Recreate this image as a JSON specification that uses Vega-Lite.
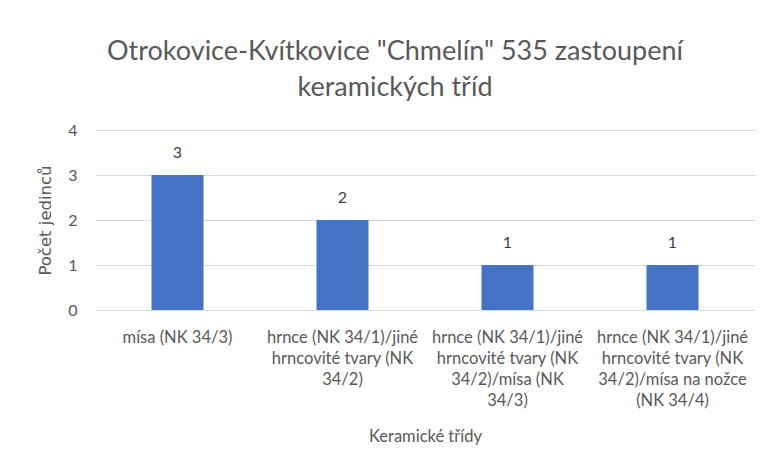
{
  "$schema": "https://vega.github.io/schema/vega-lite/v6.json",
  "autosize": "none",
  "width": 660,
  "height": 180,
  "padding": {"left": 95, "top": 130, "right": 9, "bottom": 158},
  "background": "white",
  "title": {
    "text": ["Otrokovice-Kvítkovice \"Chmelín\" 535 zastoupení", "keramických tříd"],
    "font": "Lato",
    "fontSize": 27,
    "fontWeight": "normal",
    "color": "#595959",
    "lineHeight": 36,
    "anchor": "middle",
    "dx": -30,
    "offset": 20
  },
  "data": {
    "values": [
      {"trida": "mísa (NK 34/3)", "pocet": 3},
      {"trida": "hrnce (NK 34/1)/jiné hrncovité tvary (NK 34/2)", "pocet": 2},
      {"trida": "hrnce (NK 34/1)/jiné hrncovité tvary (NK 34/2)/mísa (NK 34/3)", "pocet": 1},
      {"trida": "hrnce (NK 34/1)/jiné hrncovité tvary (NK 34/2)/mísa na nožce (NK 34/4)", "pocet": 1}
    ]
  },
  "encoding": {
    "x": {
      "field": "trida",
      "type": "nominal",
      "sort": null,
      "title": "Keramické třídy",
      "scale": {"paddingInner": 0.685, "paddingOuter": 0.3425},
      "axis": {
        "labelAngle": 0,
        "labelExpr": "datum.value == 'mísa (NK 34/3)' ? 'mísa (NK 34/3)' : datum.value == 'hrnce (NK 34/1)/jiné hrncovité tvary (NK 34/2)' ? ['hrnce (NK 34/1)/jiné', 'hrncovité tvary (NK', '34/2)'] : datum.value == 'hrnce (NK 34/1)/jiné hrncovité tvary (NK 34/2)/mísa (NK 34/3)' ? ['hrnce (NK 34/1)/jiné', 'hrncovité tvary (NK', '34/2)/mísa (NK', '34/3)'] : ['hrnce (NK 34/1)/jiné', 'hrncovité tvary (NK', '34/2)/mísa na nožce', '(NK 34/4)']",
        "labelFont": "Lato",
        "labelFontSize": 16.5,
        "labelColor": "#595959",
        "labelLineHeight": 21,
        "labelPadding": 19,
        "labelLimit": 0,
        "ticks": false,
        "domainColor": "#d9d9d9",
        "titleFont": "Lato",
        "titleFontSize": 16.5,
        "titleFontWeight": "normal",
        "titleColor": "#595959",
        "titlePadding": 20
      }
    },
    "y": {
      "field": "pocet",
      "type": "quantitative",
      "title": "Počet jedinců",
      "scale": {"domain": [0, 4]},
      "axis": {
        "values": [0, 1, 2, 3, 4],
        "format": "d",
        "domain": false,
        "ticks": false,
        "gridColor": "#d9d9d9",
        "labelFont": "Lato",
        "labelFontSize": 16,
        "labelColor": "#595959",
        "labelPadding": 18,
        "titleFont": "DejaVu Sans",
        "titleFontSize": 16.5,
        "titleFontWeight": "normal",
        "titleColor": "#595959",
        "titlePadding": 14
      }
    }
  },
  "layer": [
    {"mark": {"type": "bar", "color": "#4472C4"}},
    {
      "mark": {"type": "text", "dy": -22, "font": "Lato", "fontSize": 16, "color": "#404040"},
      "encoding": {"text": {"field": "pocet", "type": "quantitative"}}
    }
  ],
  "config": {"view": {"stroke": null}}
}
